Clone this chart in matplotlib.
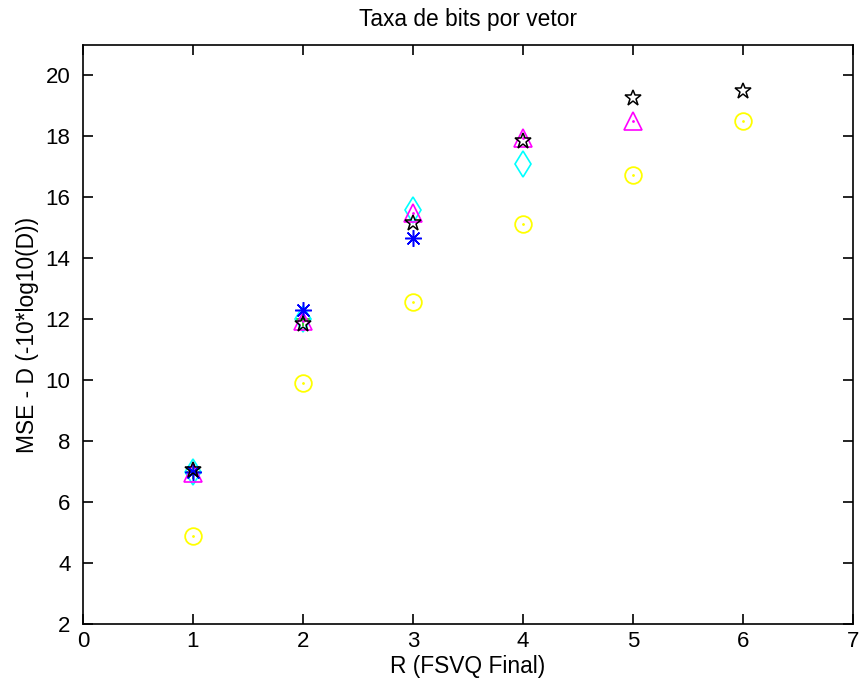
import matplotlib.pyplot as plt

plt.rcParams['font.family'] = ['Liberation Sans', 'DejaVu Sans']

# taxa R e distorcao (dB) para cada variante
R = [1, 2, 3, 4, 5, 6]
d_amarelo = [4.89, 9.92, 12.58, 15.11, 16.72, 18.52]
d_preto = [7.04, 11.86, 15.17, 17.85, 19.25, 19.48]
d_magenta = [6.95, 11.95, 15.50, 17.95, 18.49]
d_ciano = [6.98, 12.00, 15.60, 17.08]
d_azul = [6.98, 12.30, 14.68]
d_verde = [7.00, 12.02]

fig = plt.figure(figsize=(8.61, 6.85), dpi=100)
ax = fig.add_axes([0.0964, 0.0891, 0.8943, 0.8452])

ax.plot(R, d_amarelo, 'o', color='yellow', mfc='none', ms=12, mew=1.3)
ax.plot(R, d_amarelo, '.', color='yellow', ms=2)
ax.plot(R[:2], d_verde, '+', color='#00c000', ms=10, mew=1.1)
ax.plot(R[:4], d_ciano, 'd', color='cyan', mfc='none', ms=13, mew=1.2)
ax.plot(R[:5], d_magenta, '^', color='magenta', mfc='none', ms=13, mew=1.2)
ax.plot(R[:5], d_magenta, '.', color='magenta', ms=2)
ax.plot(R[:3], d_azul, marker=(8, 2, 0), ls='none', color='blue', ms=12, mew=1.1)
ax.plot(R, d_preto, '*', color='black', mfc='none', ms=12, mew=1.1)

ax.set_xlim(0, 7)
ax.set_ylim(2, 21)
ax.set_xticks(range(0, 8))
ax.set_yticks(range(2, 21, 2))
ax.tick_params(direction='in', top=True, right=True, labelsize=16,
               length=7, width=1.2)
ax.tick_params(axis='x', pad=5)
ax.tick_params(axis='y', pad=9)
for s in ax.spines.values():
    s.set_linewidth(1.2)

ax.set_title('Taxa de bits por vetor', fontsize=16.4, pad=14)
ax.set_xlabel('R (FSVQ Final)', fontsize=16.4, labelpad=2)
ax.set_ylabel('MSE - D (-10*log10(D))', fontsize=16.4, labelpad=5)

fig.savefig('out.png', dpi=100)
